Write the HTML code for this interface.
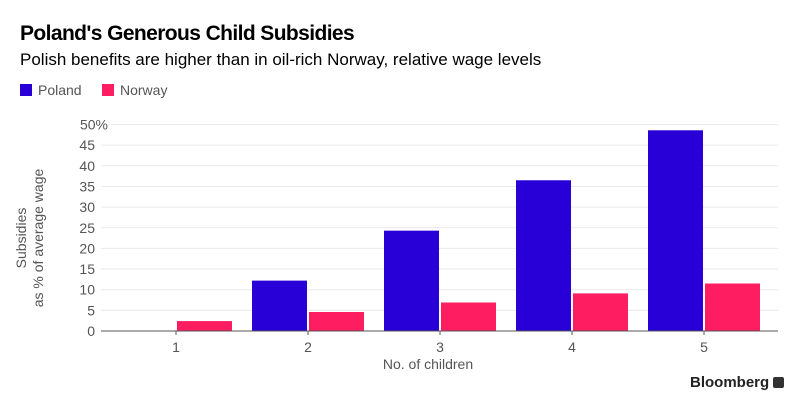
<!DOCTYPE html>
<html><head><meta charset="utf-8"><style>
body{margin:0;width:805px;height:414px;background:#fff;font-family:"Liberation Sans",sans-serif;overflow:hidden;position:relative}
.t{position:absolute;white-space:nowrap}
</style></head><body>
<div class="t" style="left:20px;top:22px;font-size:21px;font-weight:bold;letter-spacing:-0.6px;color:#000">Poland's Generous Child Subsidies</div>
<div class="t" style="left:20px;top:50px;font-size:17px;color:#000">Polish benefits are higher than in oil-rich Norway, relative wage levels</div>
<div class="t" style="left:20px;top:82px;font-size:14px;color:#555"><span style="display:inline-block;width:12px;height:12px;background:#2800d7;vertical-align:-1px;margin-right:6px"></span>Poland</div>
<div class="t" style="left:102px;top:82px;font-size:14px;color:#555"><span style="display:inline-block;width:12px;height:12px;background:#ff1d62;vertical-align:-1px;margin-right:6px"></span>Norway</div>
<div class="t" style="left:690px;top:374px;font-size:15px;font-weight:bold;color:#222">Bloomberg <span style="display:inline-block;width:11px;height:11px;background:#333;border-radius:2px;vertical-align:-1px"></span></div>
<svg id="c" width="805" height="414" style="position:absolute;left:0;top:0"></svg>
<script>
const categories=["1","2","3","4","5"];
const poland=[0,12.2,24.3,36.5,48.6];
const norway=[2.4,4.6,6.9,9.1,11.5];
const yTicks=[0,5,10,15,20,25,30,35,40,45,50];
const ns="http://www.w3.org/2000/svg";
const svg=document.getElementById('c');
const y0=331,y1=124.5,ymax=50;
const y=v=>y0-(v/ymax)*(y0-y1);
const band=132,x0=110;
function mk(t,a){const e=document.createElementNS(ns,t);for(const k in a)e.setAttribute(k,a[k]);svg.appendChild(e);return e;}
yTicks.forEach(v=>{
 const g=mk('line',{x1:v===50?112:101,x2:778,y1:y(v),y2:y(v),stroke:'#eaeaea','stroke-width':1});
 
 
 const t=mk('text',{x:95,y:y(v)+5,'text-anchor':'end','font-size':14,fill:'#555','font-family':'Liberation Sans, sans-serif'});
 t.textContent=v===50?'50%':v;
 if(v===50){t.setAttribute('x',108);}
 
 
});
categories.forEach((c,i)=>{
 const cx=x0+band*i+66;
 const p=mk('rect',{x:cx-56,y:y(poland[i]),width:55,height:y0-y(poland[i]),fill:'#2800d7'});
 
 
 const n=mk('rect',{x:cx+1,y:y(norway[i]),width:55,height:y0-y(norway[i]),fill:'#ff1d62'});
 
 
 const tk=mk('line',{x1:cx,x2:cx,y1:y0,y2:y0+4,stroke:'#555'});
 
 
 const t=mk('text',{x:cx,y:352,'text-anchor':'middle','font-size':14,fill:'#555','font-family':'Liberation Sans, sans-serif'});
 t.textContent=c;
 
 
});
const ax=mk('line',{x1:101,x2:778,y1:y0,y2:y0,stroke:'#555','stroke-width':1});


const xt=mk('text',{x:428,y:369,'text-anchor':'middle','font-size':14,fill:'#555','font-family':'Liberation Sans, sans-serif'});
xt.textContent='No. of children';


const yt=mk('text',{transform:'translate(26,238) rotate(-90)','text-anchor':'middle','font-size':14,fill:'#555','font-family':'Liberation Sans, sans-serif'});


const s1=document.createElementNS(ns,'tspan');s1.setAttribute('x',0);s1.setAttribute('dy',0);s1.textContent='Subsidies';yt.appendChild(s1);
const s2=document.createElementNS(ns,'tspan');s2.setAttribute('x',0);s2.setAttribute('dy',17);s2.textContent='as % of average wage';yt.appendChild(s2);
</script>
</body></html>
